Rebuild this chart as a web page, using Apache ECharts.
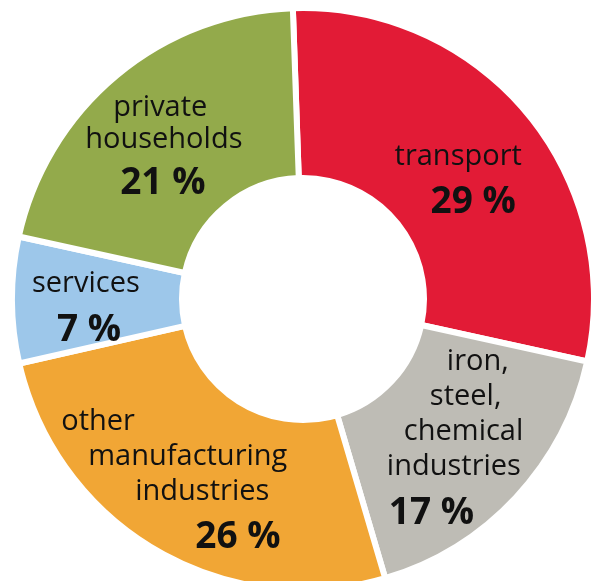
<!DOCTYPE html>
<html>
<head>
<meta charset="utf-8">
<script src="https://cdn.jsdelivr.net/npm/echarts@6/dist/echarts.min.js"></script>
<style>
  html, body { margin: 0; padding: 0; background: #fff; }
  #chart { width: 596px; height: 581px; }
</style>
</head>
<body>
<div id="chart"></div>
<script>
const categories = ['transport', 'iron, steel, chemical industries', 'other manufacturing industries', 'services', 'private households'];
const shares = [29, 17, 26, 7, 21];
const nameLines = [
  ['transport'],
  ['iron,', 'steel,', 'chemical', 'industries'],
  ['other', 'manufacturing', 'industries'],
  ['services'],
  ['private', 'households']
];
const colors = ['#E21B36', '#BEBCB5', '#F1A635', '#9DC7EA', '#93AA4B'];

// text block offset from the slice middle, and left inset of each line (last line = percent)
const labelOffsets = [[-69, -26], [-69, -97], [-136, -75], [-62, -33], [-84, -47]];
const lineInsets = [[0, 36], [60, 43, 17, 0, 2], [0, 27, 74, 134], [0, 25], [28, 0, 35]];

const chart = echarts.init(document.getElementById('chart'));

const buildLabel = (i) => {
  const lines = nameLines[i].concat(shares[i] + ' %');
  const rich = {};
  const parts = lines.map((text, j) => {
    const isPct = j === lines.length - 1;
    const key = 't' + j;
    rich[key] = {
      fontFamily: 'Open Sans',
      fontSize: isPct ? 37 : 29,
      fontWeight: isPct ? 'bold' : 'normal',
      lineHeight: isPct ? 57 : (i === 4 ? 32 : 35),
      color: '#111',
      padding: [0, 0, 0, lineInsets[i][j]]
    };
    return '{' + key + '|' + text + '}';
  });
  return { formatter: parts.join('\n'), rich };
};

chart.setOption({
  animation: false,
  series: [
    {
      type: 'pie',
      center: [303, 299],
      radius: [121, 291],
      startAngle: 92,
      clockwise: true,
      avoidLabelOverlap: false,
      label: { show: true, position: 'inside' },
      labelLine: { show: false },
      emphasis: { disabled: true },
      itemStyle: { borderColor: '#fff', borderWidth: 6 },
      labelLayout: (p) => ({
        dx: labelOffsets[p.dataIndex][0],
        dy: labelOffsets[p.dataIndex][1],
        align: 'left',
        verticalAlign: 'top'
      }),
      data: categories.map((name, i) => ({
        name,
        value: shares[i],
        itemStyle: { color: colors[i] },
        label: buildLabel(i)
      }))
    }
  ]
});
</script>
</body>
</html>
